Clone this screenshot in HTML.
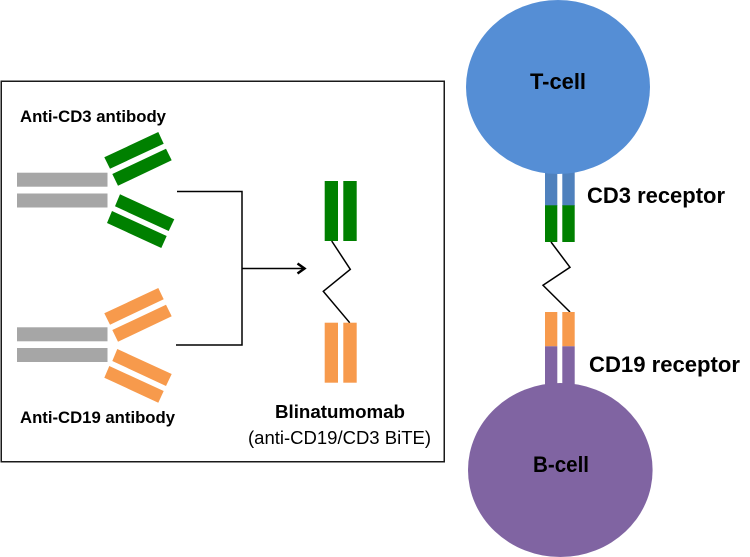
<!DOCTYPE html>
<html>
<head>
<meta charset="utf-8">
<style>
html,body{margin:0;padding:0;background:#fff;}
svg{display:block;}
text{font-family:"Liberation Sans",sans-serif;fill:#000;}
.b{font-weight:bold;}
</style>
</head>
<body>
<svg width="750" height="557" viewBox="0 0 750 557" xmlns="http://www.w3.org/2000/svg">
<rect x="1.25" y="81.25" width="443" height="380.5" fill="#fff" stroke="#1a1a1a" stroke-width="1.5"/>

<g fill="#a6a6a6">
<rect x="17" y="172.7" width="90.5" height="14"/>
<rect x="17" y="193.5" width="90.5" height="14"/>
<rect x="17" y="327.3" width="90.5" height="14"/>
<rect x="17" y="348" width="90.5" height="14"/>
</g>

<g fill="#008000">
<polygon points="104.3,157.3 158.3,132 163.7,143.7 110,168.7"/>
<polygon points="112.3,174 166,148.7 171.7,160.3 118,185.7"/>
<polygon points="120,194.3 174.3,219.3 168.7,231 115,206.3"/>
<polygon points="112,211 166.7,236 161.3,248 107,223"/>
<rect x="324.7" y="181" width="13.3" height="60"/>
<rect x="343.3" y="181" width="13.4" height="60"/>
</g>

<g fill="#f79a4c">
<polygon points="104.3,313.3 158.3,288 163.7,299.3 110,324.7"/>
<polygon points="112.3,330 166,304.7 171.7,316.3 118,341.7"/>
<polygon points="117.3,349 171.7,374 166,386 112.3,361"/>
<polygon points="109.3,366 163.7,391 158.3,402.7 104.3,377.7"/>
<rect x="324.7" y="322.7" width="13.3" height="60"/>
<rect x="343.3" y="322.7" width="13.4" height="60"/>
</g>

<g fill="none" stroke="#000" stroke-width="1.5">
<polyline points="177,191.5 242,191.5 242,345 176,345"/>
<line x1="242" y1="268.5" x2="304" y2="268.5"/>
<polyline points="297.5,263.5 304.5,268.5 297.5,273.5" stroke-width="2.5"/>
<polyline points="331.7,241 350.3,269.3 323.3,291.3 349.7,322.7"/>
</g>

<text class="b" x="20" y="122" font-size="16.5" textLength="146" lengthAdjust="spacingAndGlyphs">Anti-CD3 antibody</text>
<text class="b" x="20" y="423" font-size="16.5" textLength="155" lengthAdjust="spacingAndGlyphs">Anti-CD19 antibody</text>
<text class="b" x="275" y="418" font-size="18" textLength="130" lengthAdjust="spacingAndGlyphs">Blinatumomab</text>
<text x="248" y="444" font-size="18" textLength="183" lengthAdjust="spacingAndGlyphs">(anti-CD19/CD3 BiTE)</text>

<rect x="545" y="165" width="12.3" height="41" fill="#4f81bd"/>
<rect x="562.3" y="165" width="12.4" height="41" fill="#4f81bd"/>
<ellipse cx="558" cy="87" rx="92" ry="87" fill="#558ed5"/>
<rect x="545" y="205.3" width="12.3" height="36.7" fill="#008000"/>
<rect x="562.3" y="205.3" width="12.4" height="36.7" fill="#008000"/>

<polyline points="551,242 570,267.3 543,285.3 570,312" fill="none" stroke="#000" stroke-width="1.5"/>

<rect x="545" y="312" width="12.3" height="34.3" fill="#f79a4c"/>
<rect x="562.3" y="312" width="12.4" height="34.3" fill="#f79a4c"/>
<rect x="545" y="346.3" width="12.3" height="45" fill="#8064a2"/>
<rect x="562.3" y="346.3" width="12.4" height="45" fill="#8064a2"/>
<ellipse cx="560.3" cy="470" rx="92.3" ry="87" fill="#8064a2"/>

<text class="b" x="530" y="89" font-size="22.5" textLength="56" lengthAdjust="spacingAndGlyphs">T-cell</text>
<text class="b" x="533" y="472" font-size="22.5" textLength="56" lengthAdjust="spacingAndGlyphs">B-cell</text>
<text class="b" x="587" y="203" font-size="22" textLength="138" lengthAdjust="spacingAndGlyphs">CD3 receptor</text>
<text class="b" x="589" y="372" font-size="22" textLength="151" lengthAdjust="spacingAndGlyphs">CD19 receptor</text>
</svg>
</body>
</html>
